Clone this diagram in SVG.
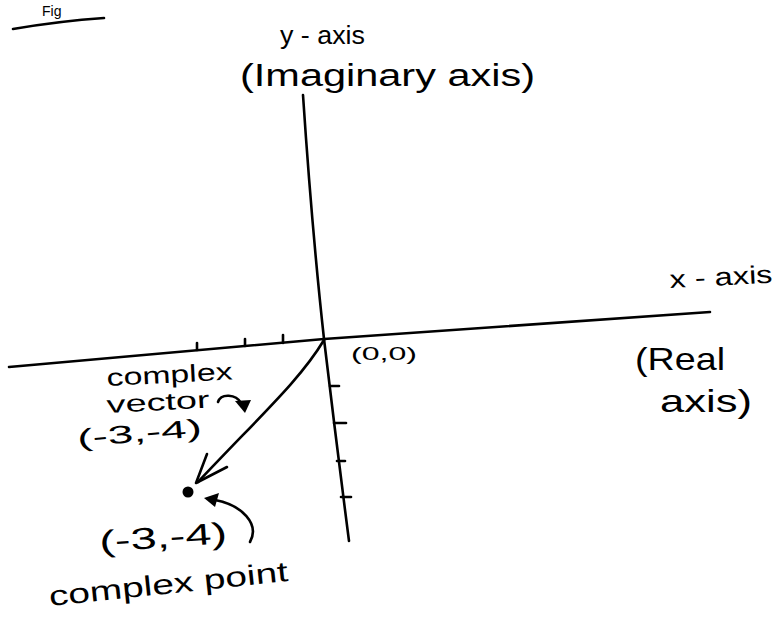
<svg xmlns="http://www.w3.org/2000/svg" width="781" height="619" viewBox="0 0 781 619">
<style>
.ln{fill:none;stroke:#000;stroke-width:2.6;stroke-linecap:round;stroke-linejoin:round}
.t{font-family:"Liberation Sans","DejaVu Sans",sans-serif;fill:#000}
</style>
<rect width="781" height="619" fill="#fff"/>
<g id="title">
<text class="t" x="42" y="16" font-size="14">Fig</text>
<path class="ln" d="M13,29 Q60,21 104,18" stroke-width="3"/>
</g>
<g id="connectors">
<path id="x-axis" class="ln" d="M9,367 L324,339 L710,312"/>
<path id="y-axis" class="ln" d="M303,95 Q312,230 324,339 Q336,440 349,541"/>
<g id="x-ticks" class="ln">
<path d="M197,350 L197,343"/><path d="M245,346 L245,339"/><path d="M283,343 L283,335"/>
</g>
<g id="y-ticks" class="ln">
<path d="M330,386 L339,386"/><path d="M334,423 L346,423"/><path d="M337,461 L345,461"/><path d="M341,497 L351,497"/>
</g>
<path id="vector" class="ln" d="M324,340 C300,380 262,414 198,482"/>
<path class="ln" d="M207,454 L196,483 L227,467"/>
<path class="ln" d="M250,542 C260,524 242,505 215,500"/>
<polygon points="204,498 219,493 215,507" fill="#000"/>
<path class="ln" d="M218,402 C221,393 236,394 241,403"/>
<polygon points="235,401 251,400 245,413" fill="#000"/>
</g>
<g id="y-label">
<text class="t" x="280" y="44" font-size="25" textLength="85" lengthAdjust="spacingAndGlyphs">y - axis</text>
<text class="t" x="240" y="86" font-size="31" textLength="295" lengthAdjust="spacingAndGlyphs">(Imaginary axis)</text>
</g>
<g id="x-label">
<text class="t" x="670" y="288" font-size="25" textLength="103" lengthAdjust="spacingAndGlyphs" transform="rotate(-3 670 288)">x - axis</text>
<text class="t" x="635" y="370" font-size="32" textLength="90" lengthAdjust="spacingAndGlyphs">(Real</text>
<text class="t" x="660" y="412" font-size="32" textLength="92" lengthAdjust="spacingAndGlyphs">axis)</text>
</g>
<g id="origin">
<text class="t" x="351" y="360" font-size="18" textLength="66" lengthAdjust="spacingAndGlyphs">(0,0)</text>
</g>
<g id="vector-label">
<text class="t" x="107" y="386" font-size="24" textLength="126" lengthAdjust="spacingAndGlyphs" transform="rotate(-3 107 386)">complex</text>
<text class="t" x="107" y="413" font-size="24" textLength="103" lengthAdjust="spacingAndGlyphs" transform="rotate(-3 107 413)">vector</text>
<text class="t" x="78" y="447" font-size="25" textLength="125" lengthAdjust="spacingAndGlyphs" transform="rotate(-5 78 447)">(-3,-4)</text>
</g>
<g id="point">
<circle cx="188" cy="492" r="5.5" fill="#000"/>
<text class="t" x="100" y="552" font-size="30" textLength="128" lengthAdjust="spacingAndGlyphs" transform="rotate(-4 100 552)">(-3,-4)</text>
<text class="t" x="50" y="606" font-size="28" textLength="240" lengthAdjust="spacingAndGlyphs" transform="rotate(-6 50 606)">complex point</text>
</g>
</svg>
